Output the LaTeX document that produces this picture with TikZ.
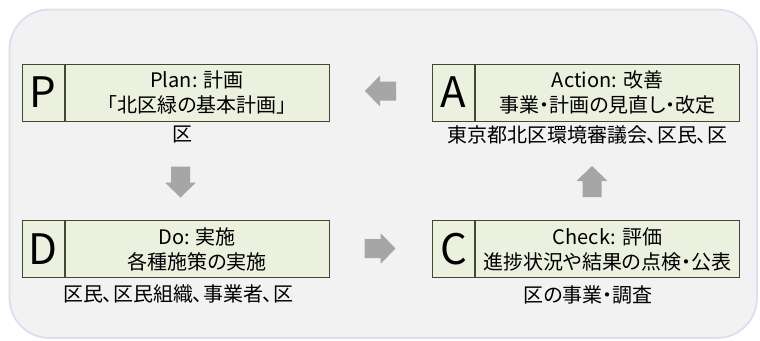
\documentclass[tikz,border=0pt]{standalone}
\usepackage{fontspec}
\setmainfont{Noto Sans CJK JP}[RawFeature={+palt}]
\newfontfamily\letterfont{Noto Sans CJK JP}
\definecolor{bgfill}{HTML}{F2F2F2}
\definecolor{bgline}{HTML}{E1DCEF}
\definecolor{boxfill}{HTML}{EBF1DE}
\definecolor{boxline}{HTML}{3F4A33}
\definecolor{arrowgray}{HTML}{A6A6A6}
\tikzset{
  lettercell/.style={draw=boxline, fill=boxfill, line width=1pt, minimum width=42pt, minimum height=57pt, inner sep=0pt, font=\letterfont\fontsize{42}{42}\selectfont},
  bodycell/.style={draw=boxline, fill=boxfill, line width=1pt, minimum width=264pt, minimum height=57pt, inner sep=0pt, align=center, anchor=west, font=\fontsize{20}{25}\selectfont},
  actorlabel/.style={inner sep=0pt, font=\fontsize{20}{25}\selectfont},
  blockarrow/.pic={\fill[arrowgray] (-15.5,-9.5) -- (0.5,-9.5) -- (0.5,-15.5) -- (15.5,0) -- (0.5,15.5) -- (0.5,9.5) -- (-15.5,9.5) -- cycle;}
}
\begin{document}
\begin{tikzpicture}[x=1pt,y=-1pt]
\useasboundingbox (0,0) rectangle (760,340);
\draw[bgline, fill=bgfill, line width=1.8pt, rounded corners=40pt] (9.5,9.5) rectangle (757,338);
% Plan
\node[lettercell] (Pl) at (43,92.5) {P};
\node[bodycell] (Pb) at (Pl.east) {Plan: 計画\\「北区緑の基本計画」};
\node[actorlabel] (Pa) at (182.5,135) {区};
% Action
\node[lettercell] (Al) at (453.5,92.5) {A};
\node[bodycell] (Ab) at (Al.east) {Action: 改善\\事業・計画の見直し・改定};
\node[actorlabel] (Aa) at (587,135) {東京都北区環境審議会、区民、区};
% Do
\node[lettercell] (Dl) at (43,249) {D};
\node[bodycell] (Db) at (Dl.east) {Do: 実施\\各種施策の実施};
\node[actorlabel] (Da) at (178,294) {区民、区民組織、事業者、区};
% Check
\node[lettercell] (Cl) at (453.5,249) {C};
\node[bodycell] (Cb) at (Cl.east) {Check: 評価\\進捗状況や結果の点検・公表};
\node[actorlabel] (Ca) at (588,295) {区の事業・調査};
% arrows
\pic[rotate=180] (arrAP) at (380.5,91) {blockarrow};
\pic[rotate=-90] (arrPD) at (180.5,182) {blockarrow};
\pic (arrDC) at (380,248.5) {blockarrow};
\pic[rotate=90] (arrCA) at (592,181.5) {blockarrow};
\end{tikzpicture}
\end{document}
